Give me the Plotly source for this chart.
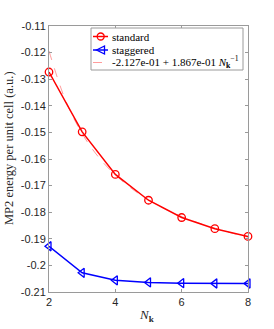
import plotly.graph_objects as go

nk = [2, 3, 4, 5, 6, 7, 8]
standard = [-0.1273, -0.1498, -0.1658, -0.1755, -0.1820, -0.1862, -0.1891]
staggered = [-0.1928, -0.2028, -0.2056, -0.2064, -0.2067, -0.2068, -0.2068]
fit_nk = [2, 2.5, 3, 3.5, 4, 4.5, 5, 5.5, 6, 6.5, 7, 7.5, 8]
fit_vals = [-0.1194, -0.1380, -0.1505, -0.1594, -0.1660, -0.1712, -0.1754,
            -0.1788, -0.1816, -0.1840, -0.1860, -0.1878, -0.1894]
ytick_vals = [-0.21, -0.20, -0.19, -0.18, -0.17, -0.16, -0.15, -0.14, -0.13, -0.12, -0.11]
ytick_text = ["-0.21", "-0.2", "-0.19", "-0.18", "-0.17", "-0.16", "-0.15", "-0.14", "-0.13", "-0.12", "-0.11"]
xtick_vals = [2, 4, 6, 8]
legend_names = ["standard", "staggered",
                "-2.127e-01 + 1.867e-01 <i>N</i><sub><b>k</b></sub><sup>−1</sup>"]

serif = "Liberation Serif"
sans = "Liberation Sans"
W, H = 274, 329
ML, MR, MT, MB = 49, 26, 26, 37
PW, PH = W - ML - MR, H - MT - MB

def px(xp):
    return (xp - ML) / PW

def py(yp):
    return (H - MB - yp) / PH

red = "red"
blue = "blue"
fitcol = "rgba(255,90,90,0.6)"

fig = go.Figure()
fig.add_trace(go.Scatter(x=fit_nk, y=fit_vals, mode="lines", line_shape="spline",
                         name=legend_names[2],
                         line=dict(color=fitcol, width=1, dash="dash")))
fig.add_trace(go.Scatter(x=nk, y=standard, mode="lines+markers", name=legend_names[0],
                         cliponaxis=False,
                         line=dict(color=red, width=1.5),
                         marker=dict(symbol="circle-open", size=7.5, color=red, line=dict(width=1.3))))
fig.add_trace(go.Scatter(x=nk, y=staggered, mode="lines+markers", name=legend_names[1],
                         cliponaxis=False,
                         line=dict(color=blue, width=1.5),
                         marker=dict(symbol="triangle-left-open", size=8, color=blue, line=dict(width=1.3))))

axis_common = dict(showline=True, linecolor="#9a9a9a", linewidth=1, mirror="ticks",
                   ticks="inside", ticklen=3, tickcolor="#9a9a9a", showgrid=False, zeroline=False,
                   automargin=False,
                   tickfont=dict(family=sans, size=11, color="#262626"))
fig.update_xaxes(range=[2, 8], tickvals=xtick_vals, **axis_common)
fig.update_yaxes(range=[-0.21, -0.11], tickvals=ytick_vals, ticktext=ytick_text, **axis_common)

shapes = []
annotations = []
# legend box
shapes.append(dict(type="rect", xref="paper", yref="paper",
                   x0=px(91), x1=px(243), y0=py(70), y1=py(28),
                   line=dict(color="#9a9a9a", width=1), fillcolor="white", layer="above"))
rows = [36.5, 50.0, 62.5]
# row 1: red line with circle
shapes.append(dict(type="line", xref="paper", yref="paper", x0=px(93), x1=px(108),
                   y0=py(rows[0]), y1=py(rows[0]), line=dict(color=red, width=1.5), layer="above"))
shapes.append(dict(type="circle", xref="paper", yref="paper", x0=px(97.2), x1=px(104.2),
                   y0=py(rows[0] + 3.5), y1=py(rows[0] - 3.5), line=dict(color=red, width=1.3),
                   fillcolor="rgba(0,0,0,0)", layer="above"))
# row 2: blue line with left triangle
shapes.append(dict(type="line", xref="paper", yref="paper", x0=px(93), x1=px(108),
                   y0=py(rows[1]), y1=py(rows[1]), line=dict(color=blue, width=1.5), layer="above"))
tri = "M {} {} L {} {} L {} {} Z".format(px(96.5), py(rows[1]), px(104.5), py(rows[1] - 4),
                                         px(104.5), py(rows[1] + 4))
shapes.append(dict(type="path", xref="paper", yref="paper", path=tri,
                   line=dict(color=blue, width=1.3), fillcolor="rgba(0,0,0,0)", layer="above"))
# row 3: dashed fit
shapes.append(dict(type="line", xref="paper", yref="paper", x0=px(93), x1=px(108),
                   y0=py(rows[2]), y1=py(rows[2]), line=dict(color=fitcol, width=1, dash="dash"),
                   layer="above"))
for r, name in zip(rows, legend_names):
    annotations.append(dict(text=name, xref="paper", yref="paper", x=px(110), y=py(r),
                            xanchor="left", yanchor="middle", showarrow=False,
                            font=dict(family=serif, size=11, color="black")))

# axis titles
annotations.append(dict(text="MP2 energy per unit cell (a.u.)", xref="paper", yref="paper",
                        x=px(9), y=py(148), textangle=-90, xanchor="center", yanchor="middle",
                        showarrow=False, font=dict(family=serif, size=12.5, color="#262626")))
annotations.append(dict(text="<i>N</i><sub><b>k</b></sub>", xref="paper", yref="paper",
                        x=px(147), y=py(315), xanchor="center", yanchor="middle",
                        showarrow=False, font=dict(family=serif, size=13, color="#262626")))

fig.update_layout(width=W, height=H, margin=dict(l=ML, r=MR, t=MT, b=MB),
                  plot_bgcolor="white", paper_bgcolor="white", showlegend=False,
                  shapes=shapes, annotations=annotations)

fig.write_html("out.html", config={"displayModeBar": False},
               post_script="document.body.style.margin='0';")
